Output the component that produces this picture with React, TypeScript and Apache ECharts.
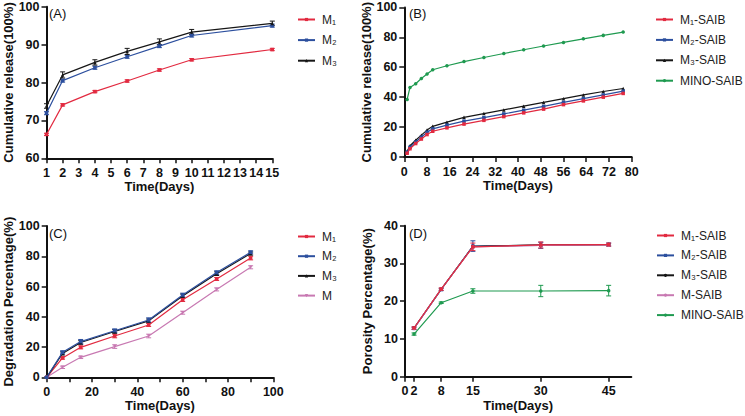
import React, { useEffect, useRef } from 'react';
import * as echarts from 'echarts';

const FONT = '"Liberation Sans", Arial, Helvetica, "DejaVu Sans", sans-serif';
const RED = '#e22a40';
const BLUE = '#2c4f9e';
const BLACK = '#161616';
const GREEN = '#1f9a50';
const PINK = '#c879b2';

// Panel A: cumulative release
const daysA = [1, 2, 4, 6, 8, 10, 15];
const m1A = [66.3, 74.1, 77.6, 80.4, 83.3, 86.0, 88.7];
const m2A = [71.9, 80.5, 83.9, 86.8, 89.6, 92.4, 95.0];
const m3A = [73.8, 82.0, 85.3, 88.2, 90.7, 93.3, 95.6];
const m1AErr = [0.3, 0.3, 0.3, 0.3, 0.3, 0.3, 0.3];
const m2AErr = [0.4, 0.4, 0.4, 0.4, 0.4, 0.4, 0.4];
const m3AErr = [0.6, 0.8, 0.7, 0.8, 0.8, 0.7, 0.6];

// Panel B: cumulative release (SAIB)
const daysB = [1, 2, 4, 6, 8, 10, 15, 21, 28, 35, 42, 49, 56, 63, 70, 77];
const m1B = [2.5, 5.5, 9.0, 12.0, 15.0, 17.2, 19.5, 22.0, 24.5, 27.0, 29.5, 32.0, 35.0, 37.5, 40.0, 42.5];
const m2B = [3.2, 6.5, 10.0, 13.3, 16.5, 18.8, 21.3, 24.0, 26.3, 28.8, 31.3, 33.8, 36.5, 39.0, 41.5, 44.0];
const m3B = [3.8, 7.5, 11.2, 14.6, 18.0, 20.5, 23.3, 26.5, 29.0, 31.5, 34.0, 36.5, 39.0, 41.5, 43.8, 45.8];
const minoB = [38.5, 46.5, 49.0, 52.5, 55.5, 58.3, 61.0, 63.8, 66.5, 69.2, 71.7, 74.2, 76.6, 79.0, 81.3, 83.5];

// Panel C: degradation
const daysC = [0, 7, 15, 30, 45, 60, 75, 90];
const m1C = [0, 12.8, 19.8, 27.3, 34.6, 51.3, 65.0, 78.8];
const m2C = [0, 16.5, 23.6, 30.8, 37.9, 54.4, 69.2, 82.6];
const m3C = [0, 15.8, 23.0, 30.3, 37.3, 53.8, 68.5, 81.8];
const mC = [0, 6.6, 13.2, 20.3, 27.3, 42.7, 58.1, 72.7];
const m1CErr = [0, 0.8, 1.0, 1.2, 1.0, 1.2, 1.0, 1.2];
const m2CErr = [0, 1.0, 1.4, 1.2, 1.4, 1.2, 1.2, 1.0];
const m3CErr = [0, 1.0, 1.2, 1.2, 1.2, 1.2, 1.2, 1.0];
const mCErr = [0, 0.8, 0.8, 1.2, 1.2, 1.0, 1.0, 1.0];

// Panel D: porosity
const daysD = [2, 8, 15, 30, 45];
const m1D = [12.9, 23.2, 34.4, 34.9, 35.0];
const m2D = [12.8, 23.1, 34.6, 34.8, 35.0];
const m3D = [12.9, 23.2, 34.5, 34.9, 35.0];
const mD = [12.8, 23.2, 34.4, 34.8, 34.9];
const minoD = [11.3, 19.6, 22.7, 22.7, 22.8];
const m1DErr = [0.3, 0.3, 1.0, 0.8, 0.4];
const m2DErr = [0.3, 0.3, 1.4, 0.8, 0.4];
const minoDErr = [0.3, 0.2, 0.6, 1.5, 1.4];
const ticksD = [0, 2, 8, 15, 30, 45];

const line = (name: string, idx: number, xs: number[], ys: number[], color: string, symbol: string, z = 4) => ({
  type: 'line',
  name,
  xAxisIndex: idx,
  yAxisIndex: idx,
  data: xs.map((x, i) => [x, ys[i]]),
  symbol,
  symbolSize: 3.5,
  z,
  lineStyle: { color, width: 1.2 },
  itemStyle: { color },
});

const errs = (idx: number, xs: number[], ys: number[], e: number[], color: string) => ({
  type: 'custom',
  name: 'err',
  xAxisIndex: idx,
  yAxisIndex: idx,
  silent: true,
  z: 3,
  data: xs.map((x, i) => [x, ys[i] - e[i], ys[i] + e[i]]),
  encode: { x: 0, y: [1, 2] },
  renderItem: (params: any, api: any) => {
    const x = api.value(0);
    const lo = api.coord([x, api.value(1)]);
    const hi = api.coord([x, api.value(2)]);
    const w = 2.5;
    const st = { stroke: color, lineWidth: 1 };
    return {
      type: 'group',
      children: [
        { type: 'line', shape: { x1: hi[0], y1: hi[1], x2: lo[0], y2: lo[1] }, style: st },
        { type: 'line', shape: { x1: hi[0] - w, y1: hi[1], x2: hi[0] + w, y2: hi[1] }, style: st },
        { type: 'line', shape: { x1: lo[0] - w, y1: lo[1], x2: lo[0] + w, y2: lo[1] }, style: st },
      ],
    };
  },
});

const axisCommon = {
  axisLine: { show: true, onZero: false, lineStyle: { color: '#111', width: 2 } },
  axisTick: { show: true, inside: false, length: 5, lineStyle: { color: '#111', width: 1.5 } },
  splitLine: { show: false },
  nameTextStyle: { fontFamily: FONT, fontWeight: 'bold', fontSize: 13, color: '#111' },
};
const labelCommon = { fontFamily: FONT, fontWeight: 'bold', fontSize: 12.5, color: '#111' };

const xAx = (idx: number, min: number, max: number, interval: number | undefined, extraLabel: any = {}, extraTick: any = {}) => ({
  type: 'value',
  gridIndex: idx,
  min,
  max,
  interval,
  name: 'Time(Days)',
  nameLocation: 'middle',
  nameGap: 22,
  ...axisCommon,
  axisTick: { ...axisCommon.axisTick, ...extraTick },
  axisLabel: { ...labelCommon, margin: 8, ...extraLabel },
});

const yAx = (idx: number, min: number, max: number, interval: number, name: string) => ({
  type: 'value',
  gridIndex: idx,
  min,
  max,
  interval,
  name,
  nameLocation: 'middle',
  nameRotate: 90,
  nameGap: 31,
  ...axisCommon,
  axisLabel: { ...labelCommon, margin: 7 },
});

const legend = (left: number, top: number, data: string[], gap: number) => ({
  orient: 'vertical',
  left,
  top,
  data,
  itemWidth: 17,
  itemHeight: 4,
  itemGap: gap,
  selectedMode: false,
  formatter: (n: string) => n.split('|')[1],
  textStyle: { fontFamily: FONT, fontSize: 12, color: '#222', lineHeight: 14, padding: [0, 0, 0, 2] },
});

export default function App() {
  const ref = useRef<HTMLDivElement>(null);
  useEffect(() => {
    if (!ref.current) return;
    const chart = echarts.init(ref.current, undefined, { renderer: 'svg' });
    const option: any = {
      animation: false,
      backgroundColor: '#fff',
      grid: [
        { left: 46.5, right: 472.7, top: 6.7, bottom: 257.7 },
        { left: 404.3, right: 113.3, top: 6, bottom: 259 },
        { left: 46.7, right: 471.7, top: 226, bottom: 38.7 },
        { left: 405, right: 113.7, top: 225.7, bottom: 39.3 },
      ],
      xAxis: [
        xAx(0, 1, 15, 1),
        xAx(1, 0, 80, 8),
        xAx(2, 0, 100, 10, { formatter: (v: number) => (v % 20 === 0 ? String(v) : '') }),
        xAx(3, 0, 50, undefined, { customValues: ticksD }, { customValues: ticksD }),
      ],
      yAxis: [
        yAx(0, 60, 100, 10, 'Cumulative release(100%)'),
        yAx(1, 0, 100, 20, 'Cumulative release(100%)'),
        yAx(2, 0, 100, 20, 'Degradation Percentage(%)'),
        yAx(3, 0, 40, 10, 'Porosity Percentage(%)'),
      ],
      legend: [
        legend(292, 7.5, ['A|M₁', 'A|M₂', 'A|M₃'], 6.6),
        legend(650, 7.5, ['B|M₁-SAIB', 'B|M₂-SAIB', 'B|M₃-SAIB', 'B|MINO-SAIB'], 6.4),
        legend(292, 224.5, ['C|M₁', 'C|M₂', 'C|M₃', 'C|M'], 5.7),
        legend(651, 223.5, ['D|M₁-SAIB', 'D|M₂-SAIB', 'D|M₃-SAIB', 'D|M-SAIB', 'D|MINO-SAIB'], 5.9),
      ],
      graphic: [
        { type: 'text', left: 49, top: 7, style: { text: '(A)', fontFamily: FONT, fontSize: 13, fill: '#111' } },
        { type: 'text', left: 409, top: 7, style: { text: '(B)', fontFamily: FONT, fontSize: 13, fill: '#111' } },
        { type: 'text', left: 49, top: 227, style: { text: '(C)', fontFamily: FONT, fontSize: 13, fill: '#111' } },
        { type: 'text', left: 409, top: 227, style: { text: '(D)', fontFamily: FONT, fontSize: 13, fill: '#111' } },
      ],
      series: [
        // A
        errs(0, daysA, m1A, m1AErr, RED),
        errs(0, daysA, m2A, m2AErr, BLUE),
        errs(0, daysA, m3A, m3AErr, BLACK),
        line('A|M₁', 0, daysA, m1A, RED, 'rect'),
        line('A|M₂', 0, daysA, m2A, BLUE, 'rect'),
        line('A|M₃', 0, daysA, m3A, BLACK, 'triangle'),
        // B
        line('B|M₁-SAIB', 1, daysB, m1B, RED, 'rect', 6),
        line('B|M₂-SAIB', 1, daysB, m2B, BLUE, 'rect', 5),
        line('B|M₃-SAIB', 1, daysB, m3B, BLACK, 'triangle', 4),
        line('B|MINO-SAIB', 1, daysB, minoB, GREEN, 'circle', 4),
        // C
        errs(2, daysC, mC, mCErr, PINK),
        errs(2, daysC, m1C, m1CErr, RED),
        errs(2, daysC, m3C, m3CErr, BLACK),
        errs(2, daysC, m2C, m2CErr, BLUE),
        line('C|M₁', 2, daysC, m1C, RED, 'rect', 5),
        line('C|M₂', 2, daysC, m2C, BLUE, 'rect', 6),
        line('C|M₃', 2, daysC, m3C, BLACK, 'triangle', 5),
        line('C|M', 2, daysC, mC, PINK, 'path://M0,0 L10,0 L5,10 Z', 4),
        // D
        errs(3, daysD, m2D, m2DErr, BLUE),
        errs(3, daysD, m1D, m1DErr, RED),
        errs(3, daysD, minoD, minoDErr, GREEN),
        line('D|M₂-SAIB', 3, daysD, m2D, BLUE, 'rect', 4),
        line('D|M₃-SAIB', 3, daysD, m3D, BLACK, 'circle', 4),
        line('D|M-SAIB', 3, daysD, mD, PINK, 'circle', 4),
        line('D|M₁-SAIB', 3, daysD, m1D, RED, 'rect', 6),
        line('D|MINO-SAIB', 3, daysD, minoD, GREEN, 'circle', 5),
      ],
    };
    chart.setOption(option);
    return () => chart.dispose();
  }, []);
  return (
    <div
      ref={ref}
      style={{ position: 'absolute', left: 0, top: 0, width: 745, height: 416, background: '#fff' }}
    />
  );
}
